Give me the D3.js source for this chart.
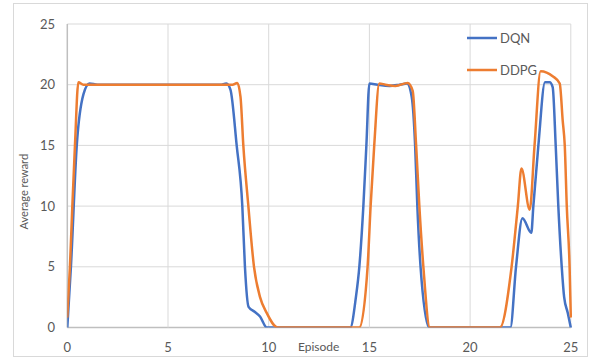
<!DOCTYPE html>
<html><head><meta charset="utf-8">
<script src="https://cdn.jsdelivr.net/npm/d3@7"></script>
<style>body{margin:0;background:#fff}svg text{font-family:Lato,"Open Sans",sans-serif;fill:#595959}</style>
</head><body><svg id="c" width="594" height="360"></svg>
<script>
const xTicks = [0,5,10,15,20,25];
const yTicks = [0,5,10,15,20,25];
const seriesNames = ["DQN","DDPG"];
const dqnEpisodes = [0,0.18,0.47,0.8,1.1,1.5,4,7.6,7.9,8.1,8.41,8.69,8.82,9.0,9.3,9.57,9.9,10.2,12,14.05,14.33,14.5,14.7,14.85,15.0,15.4,16,16.5,16.87,17.1,17.27,17.38,17.54,17.97,18.5,20,21.5,22.0,22.28,22.6,23.04,23.14,23.39,23.72,23.95,24.1,24.25,24.38,24.55,24.67,24.85,25];
const dqnValues   = [0,5,15,19.2,20.1,20,20,20,20.1,19.6,15,10,5,1.7,1.3,0.9,0,0,0,0,2.5,5,10,15,20.1,20,19.9,20,20.1,19,15,10,5,0,0,0,0,0,5,9,7.8,10,15,20.2,20.2,19.8,15,10,5,2.5,1.2,0];
const ddpgEpisodes = [0,0.13,0.25,0.38,0.55,0.8,1.2,4,8.0,8.2,8.44,8.6,8.74,8.99,9.27,9.57,9.9,10.45,12,14.5,14.91,15.06,15.24,15.49,15.8,16.3,16.9,17.15,17.32,17.48,17.68,18.0,18.4,20,21.48,22.06,22.37,22.55,22.96,23.2,23.5,23.8,24.1,24.45,24.6,24.7,24.8,24.94,25];
const ddpgValues   = [0.9,5,10,15,20.2,20,20,20,20,20,20.15,19,15,10,5,2.5,1.2,0,0,0,5,10,15,20.1,20,19.9,20.15,19.5,15,10,5,0,0,0,0,5,10,13.1,9.7,15,21.1,21,20.7,20.1,17,15,10,5,0.9];

const svg = d3.select("#c");
svg.append("rect").attr("x",13.5).attr("y",3.5).attr("width",574).attr("height",353)
  .attr("fill","#fff").attr("stroke","#d9d9d9").attr("stroke-width",1);

const x = d3.scaleLinear().domain([0,25]).range([67.3,570.8]);
const y = d3.scaleLinear().domain([0,25]).range([327.5,24]);

svg.append("g").selectAll("line").data(yTicks).join("line")
  .attr("x1",x(0)).attr("x2",x(25)).attr("y1",d=>y(d)).attr("y2",d=>y(d))
  .attr("stroke",d=>d===0?"#bfbfbf":"#d9d9d9").attr("stroke-width",d=>d===0?1.5:1);
svg.append("g").selectAll("line").data(xTicks).join("line")
  .attr("y1",y(0)).attr("y2",y(25)).attr("x1",d=>x(d)).attr("x2",d=>x(d))
  .attr("stroke",d=>d===0?"#bfbfbf":"#d9d9d9").attr("stroke-width",d=>d===0?1.5:1);

svg.append("g").selectAll("text").data(yTicks).join("text")
  .attr("x",55).attr("y",d=>y(d)).attr("dy","0.35em").attr("text-anchor","end")
  .attr("font-size",13).text(d=>d);
svg.append("g").selectAll("text").data(xTicks).join("text")
  .attr("x",d=>x(d)).attr("y",347).attr("dy","0.35em").attr("text-anchor","middle")
  .attr("font-size",13).text(d=>d);

svg.append("text").attr("transform","translate(28,191.7) rotate(-90)")
  .attr("text-anchor","middle").attr("font-size",11).text("Average reward");
svg.append("text").attr("x",298).attr("y",347).attr("dy","0.35em")
  .attr("font-size",12).text("Episode");

svg.append("clipPath").attr("id","clip").append("rect")
  .attr("x",x(0)).attr("y",y(25)-5).attr("width",x(25)-x(0)+2).attr("height",y(0)-y(25)+5);

const line = d3.line().x(d=>x(d[0])).y(d=>y(d[1])).curve(d3.curveMonotoneX);
const series = [
  {name:seriesNames[0], color:"#4472C4", pts:d3.zip(dqnEpisodes,dqnValues)},
  {name:seriesNames[1], color:"#ED7D31", pts:d3.zip(ddpgEpisodes,ddpgValues)}
];
const g = svg.append("g").attr("clip-path","url(#clip)");
series.forEach(s=>{
  g.append("path").attr("d",line(s.pts)).attr("fill","none")
   .attr("stroke",s.color).attr("stroke-width",2.5).attr("stroke-linejoin","round").attr("stroke-linecap","round");
});

const lg = svg.append("g");
series.forEach((s,i)=>{
  const ly = 38 + i*32;
  lg.append("line").attr("x1",467).attr("x2",497).attr("y1",ly).attr("y2",ly)
    .attr("stroke",s.color).attr("stroke-width",2.5);
  lg.append("text").attr("x",500).attr("y",ly).attr("dy","0.35em").attr("font-size",13).text(s.name);
});
</script></body></html>
